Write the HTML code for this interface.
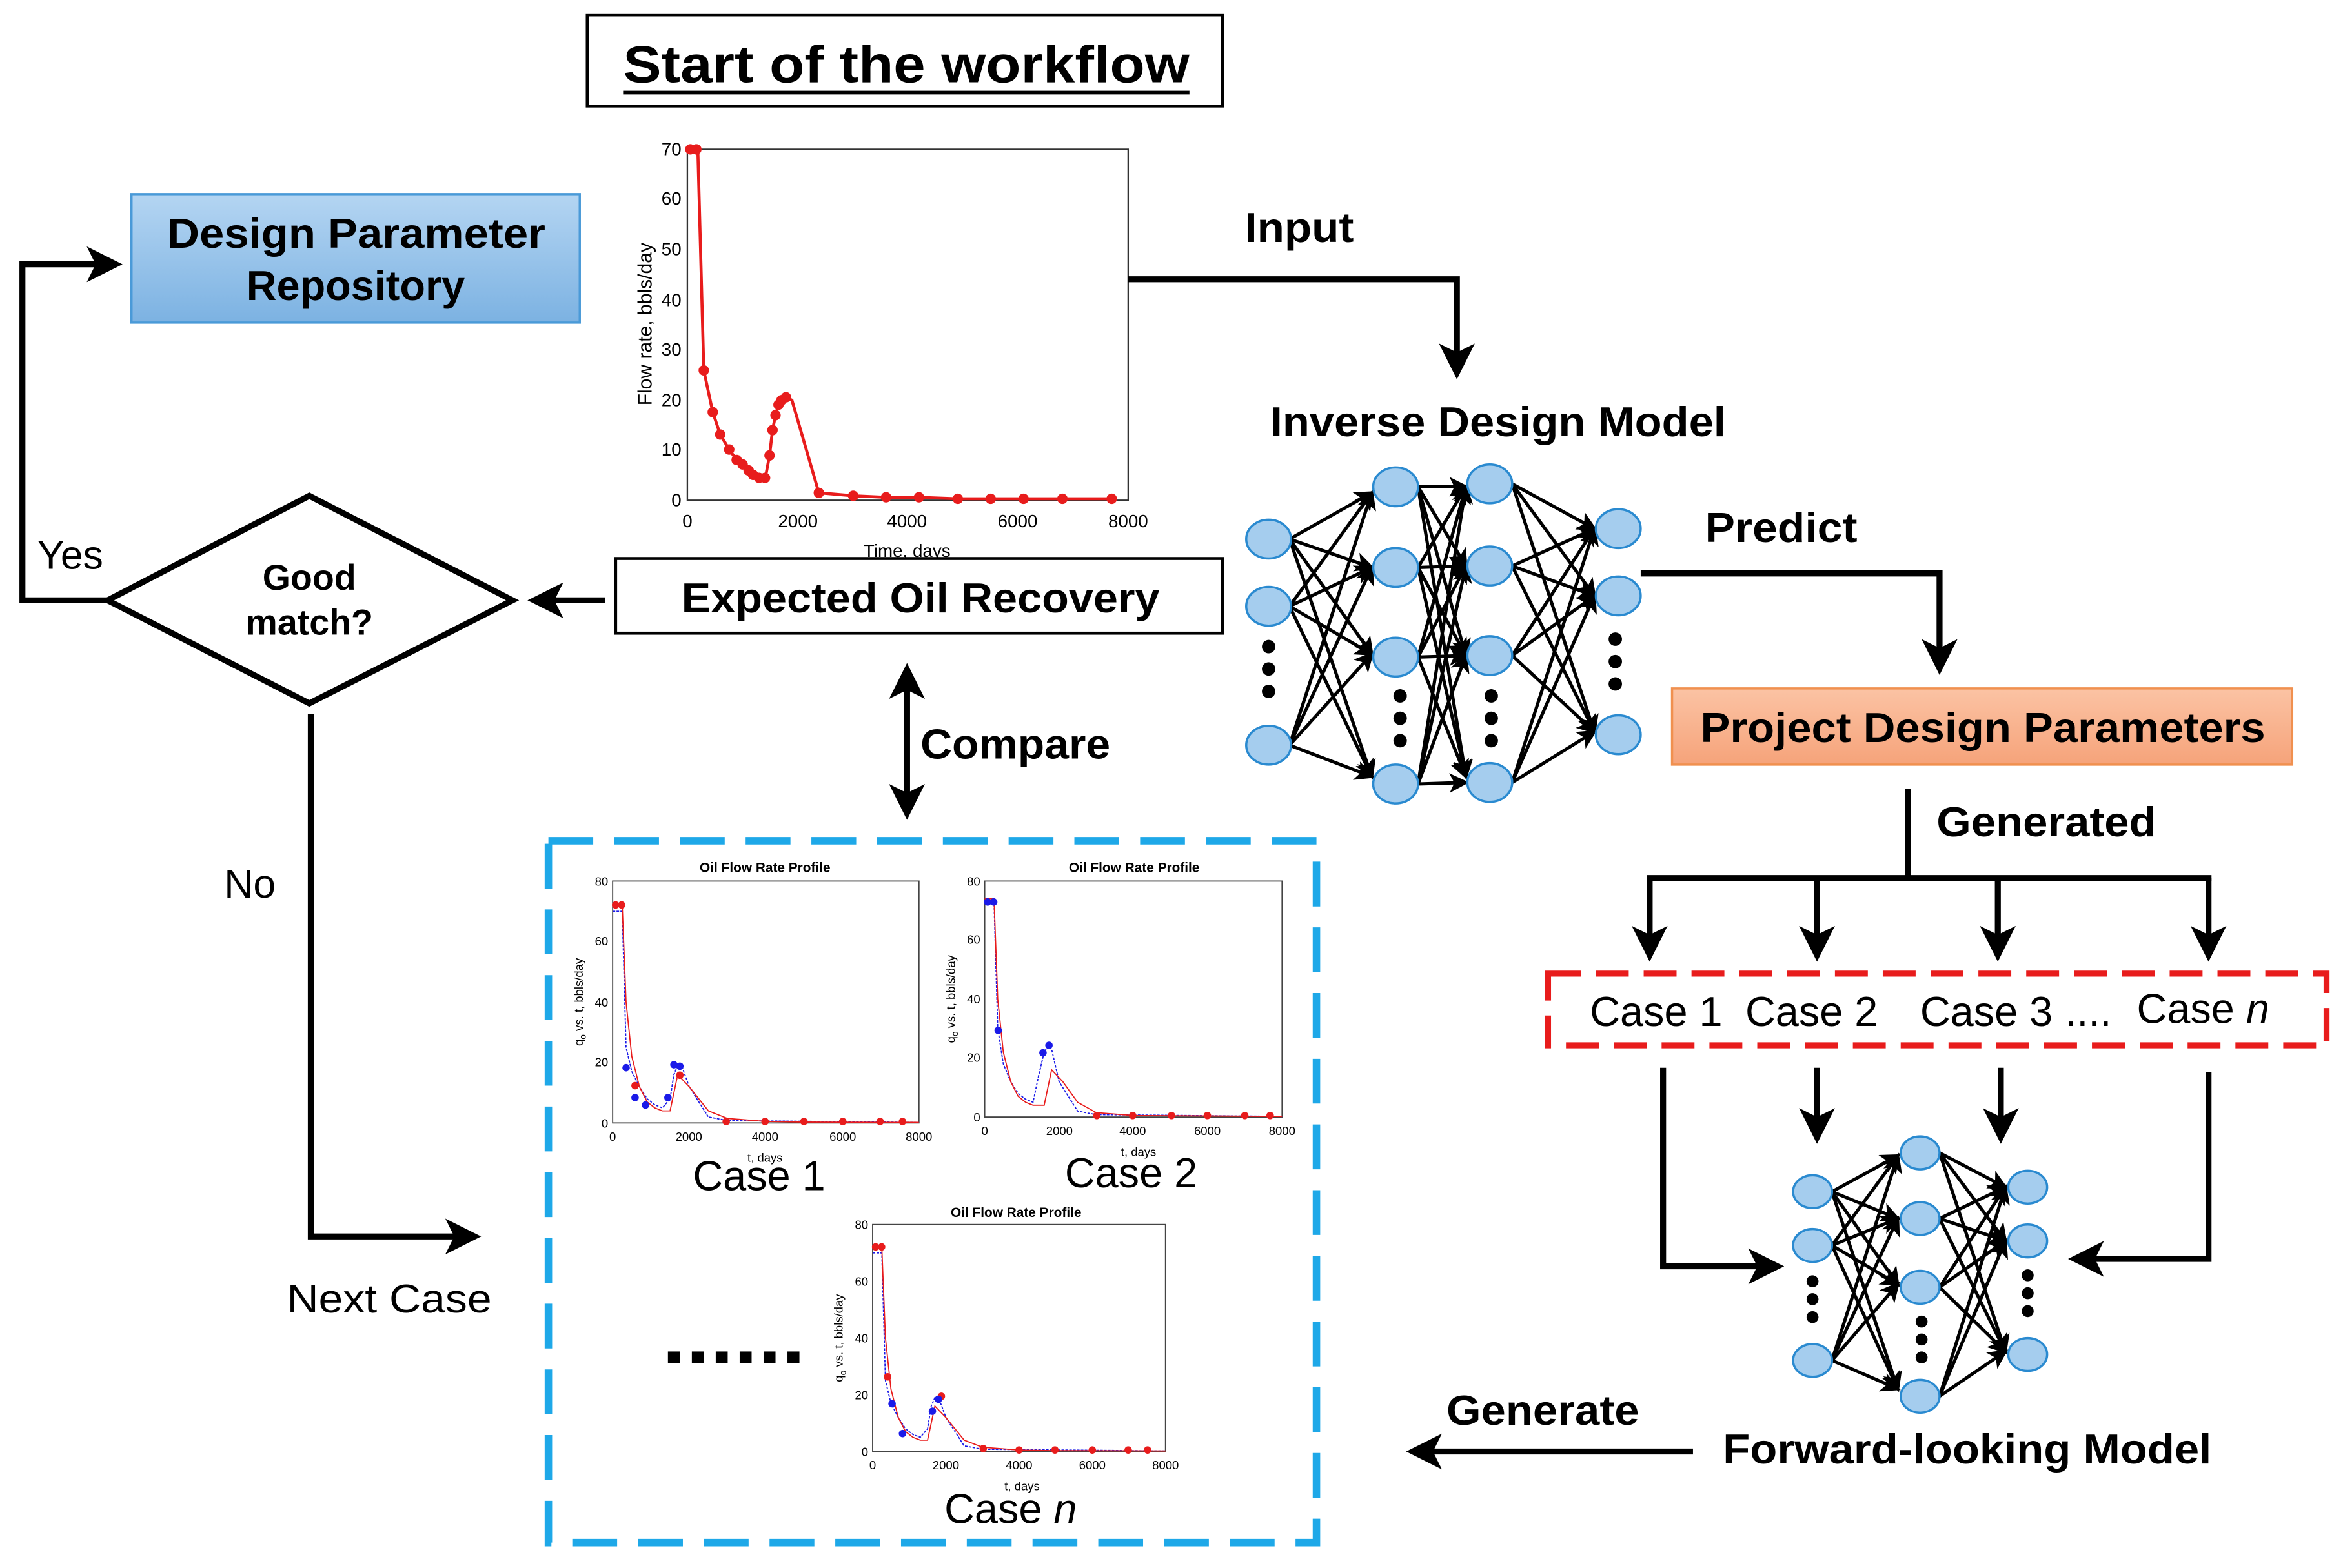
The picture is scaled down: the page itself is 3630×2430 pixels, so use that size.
<!DOCTYPE html>
<html><head><meta charset="utf-8"><style>html,body{margin:0;padding:0;background:#fff}svg{display:block}</style></head>
<body>
<svg xmlns="http://www.w3.org/2000/svg" width="3630" height="2430" viewBox="0 0 1568 1050" preserveAspectRatio="none" font-family="Liberation Sans, Arial, sans-serif">
<defs>
<marker id="ah" markerWidth="6" markerHeight="6" refX="5" refY="3" orient="auto" markerUnits="strokeWidth"><path d="M0,0 L6,3 L0,6 L1.5,3 z" fill="#000"/></marker>
<linearGradient id="bg" x1="0" y1="0" x2="0" y2="1"><stop offset="0" stop-color="#b4d5f2"/><stop offset="1" stop-color="#7cb2e2"/></linearGradient>
<linearGradient id="og" x1="0" y1="0" x2="0" y2="1"><stop offset="0" stop-color="#fbc3a4"/><stop offset="1" stop-color="#f6a37a"/></linearGradient>
<g id="redc"><polyline vector-effect="non-scaling-stroke" fill="none" stroke="#e81c1c" stroke-width="1.8" points="0,72 250,72 350,40 500,22 700,12 900,7 1100,5 1300,4 1500,4 1700,16 2000,12 2500,4 3000,1.5 4000,0.5 5000,0.3 8000,0.2"/></g>
</defs>
<rect width="1568" height="1050" fill="#fff"/>

<rect x="393" y="10" width="425" height="61" fill="#fff" stroke="#000" stroke-width="2"/>
<text x="417" y="55" font-size="35" font-weight="bold" textLength="379" lengthAdjust="spacingAndGlyphs">Start of the workflow</text>
<line x1="417" y1="62" x2="796" y2="62" stroke="#000" stroke-width="2.5"/>

<rect x="460" y="100" width="295" height="235" fill="#fff" stroke="#333" stroke-width="1"/>
<g font-size="12" text-anchor="end">
<text x="456" y="339">0</text><text x="456" y="305">10</text><text x="456" y="272">20</text><text x="456" y="238">30</text><text x="456" y="205">40</text><text x="456" y="171">50</text><text x="456" y="137">60</text><text x="456" y="104">70</text>
</g>
<g font-size="12" text-anchor="middle">
<text x="460" y="353">0</text><text x="534" y="353">2000</text><text x="607" y="353">4000</text><text x="681" y="353">6000</text><text x="755" y="353">8000</text>
<text x="607" y="373">Time, days</text>
</g>
<text transform="translate(436,217) rotate(-90)" font-size="13" text-anchor="middle">Flow rate, bbls/day</text>
<polyline fill="none" stroke="#e81c1c" stroke-width="2" points="460,100 467,100 471,248 477,276 482,291 488,301 493,308 497,311.5 501,315 504,318 508,320 512,321 515,305 517,288 519,278 521,271 523,268 526,266 530,268 548,330 571,332 593,333 615,333 641,334 663,334 685,334 711,334 744,334"/>
<g fill="#e81c1c">
<circle cx="462" cy="100" r="3.5"/><circle cx="466" cy="100" r="3.5"/><circle cx="471" cy="248" r="3.5"/><circle cx="477" cy="276" r="3.5"/><circle cx="482" cy="291" r="3.5"/><circle cx="488" cy="301" r="3.5"/><circle cx="493" cy="308" r="3.5"/><circle cx="497" cy="311" r="3.5"/><circle cx="501" cy="315" r="3.5"/><circle cx="504" cy="318" r="3.5"/><circle cx="508" cy="320" r="3.5"/><circle cx="512" cy="320" r="3.5"/><circle cx="515" cy="305" r="3.5"/><circle cx="517" cy="288" r="3.5"/><circle cx="519" cy="278" r="3.5"/><circle cx="521" cy="271" r="3.5"/><circle cx="523" cy="268" r="3.5"/><circle cx="526" cy="266" r="3.5"/><circle cx="548" cy="330" r="3.5"/><circle cx="571" cy="332" r="3.5"/><circle cx="593" cy="333" r="3.5"/><circle cx="615" cy="333" r="3.5"/><circle cx="641" cy="334" r="3.5"/><circle cx="663" cy="334" r="3.5"/><circle cx="685" cy="334" r="3.5"/><circle cx="711" cy="334" r="3.5"/><circle cx="744" cy="334" r="3.5"/>
</g>

<text x="833" y="162" font-size="28" font-weight="bold" textLength="73" lengthAdjust="spacingAndGlyphs">Input</text>
<polyline points="755,187 975,187 975,250" fill="none" stroke="#000" stroke-width="4" marker-end="url(#ah)"/>
<text x="850" y="292" font-size="28" font-weight="bold" textLength="305" lengthAdjust="spacingAndGlyphs">Inverse Design Model</text>

<g stroke="#000" stroke-width="2.2" marker-end="url(#ah)">
<line x1="863" y1="361" x2="918" y2="330"/><line x1="863" y1="361" x2="918" y2="380"/><line x1="863" y1="361" x2="918" y2="438"/><line x1="863" y1="361" x2="918" y2="520"/>
<line x1="863" y1="406" x2="918" y2="330"/><line x1="863" y1="406" x2="918" y2="380"/><line x1="863" y1="406" x2="918" y2="438"/><line x1="863" y1="406" x2="918" y2="520"/>
<line x1="863" y1="499" x2="918" y2="330"/><line x1="863" y1="499" x2="918" y2="380"/><line x1="863" y1="499" x2="918" y2="438"/><line x1="863" y1="499" x2="918" y2="520"/>
<line x1="949" y1="326" x2="981" y2="326"/><line x1="949" y1="326" x2="981" y2="379"/><line x1="949" y1="326" x2="981" y2="439"/><line x1="949" y1="326" x2="981" y2="520"/>
<line x1="949" y1="380" x2="981" y2="326"/><line x1="949" y1="380" x2="981" y2="379"/><line x1="949" y1="380" x2="981" y2="439"/><line x1="949" y1="380" x2="981" y2="520"/>
<line x1="949" y1="440" x2="981" y2="326"/><line x1="949" y1="440" x2="981" y2="379"/><line x1="949" y1="440" x2="981" y2="439"/><line x1="949" y1="440" x2="981" y2="520"/>
<line x1="949" y1="525" x2="981" y2="326"/><line x1="949" y1="525" x2="981" y2="379"/><line x1="949" y1="525" x2="981" y2="439"/><line x1="949" y1="525" x2="981" y2="524"/>
<line x1="1012" y1="324" x2="1067" y2="354"/><line x1="1012" y1="324" x2="1067" y2="399"/><line x1="1012" y1="324" x2="1067" y2="490"/>
<line x1="1012" y1="379" x2="1067" y2="354"/><line x1="1012" y1="379" x2="1067" y2="399"/><line x1="1012" y1="379" x2="1067" y2="490"/>
<line x1="1012" y1="439" x2="1067" y2="354"/><line x1="1012" y1="439" x2="1067" y2="399"/><line x1="1012" y1="439" x2="1067" y2="490"/>
<line x1="1012" y1="524" x2="1067" y2="354"/><line x1="1012" y1="524" x2="1067" y2="399"/><line x1="1012" y1="524" x2="1067" y2="490"/>
</g>
<g fill="#a5cdee" stroke="#2a8ad0" stroke-width="1.5">
<ellipse cx="849" cy="361" rx="15" ry="13"/><ellipse cx="849" cy="406" rx="15" ry="13"/><ellipse cx="849" cy="499" rx="15" ry="13"/>
<ellipse cx="934" cy="326" rx="15" ry="13"/><ellipse cx="934" cy="380" rx="15" ry="13"/><ellipse cx="934" cy="440" rx="15" ry="13"/><ellipse cx="934" cy="525" rx="15" ry="13"/>
<ellipse cx="997" cy="324" rx="15" ry="13"/><ellipse cx="997" cy="379" rx="15" ry="13"/><ellipse cx="997" cy="439" rx="15" ry="13"/><ellipse cx="997" cy="524" rx="15" ry="13"/>
<ellipse cx="1083" cy="354" rx="15" ry="13"/><ellipse cx="1083" cy="399" rx="15" ry="13"/><ellipse cx="1083" cy="492" rx="15" ry="13"/>
</g>
<g fill="#000">
<circle cx="849" cy="433" r="4.5"/><circle cx="849" cy="448" r="4.5"/><circle cx="849" cy="463" r="4.5"/>
<circle cx="937" cy="466" r="4.5"/><circle cx="937" cy="481" r="4.5"/><circle cx="937" cy="496" r="4.5"/>
<circle cx="998" cy="466" r="4.5"/><circle cx="998" cy="481" r="4.5"/><circle cx="998" cy="496" r="4.5"/>
<circle cx="1081" cy="428" r="4.5"/><circle cx="1081" cy="443" r="4.5"/><circle cx="1081" cy="458" r="4.5"/>
</g>

<text x="1141" y="363" font-size="28" font-weight="bold" textLength="102" lengthAdjust="spacingAndGlyphs">Predict</text>
<polyline points="1098,384 1298,384 1298,448" fill="none" stroke="#000" stroke-width="4" marker-end="url(#ah)"/>
<rect x="1119" y="461" width="415" height="51" fill="url(#og)" stroke="#f0904f" stroke-width="1.5"/>
<text x="1138" y="497" font-size="28" font-weight="bold" textLength="378" lengthAdjust="spacingAndGlyphs">Project Design Parameters</text>

<text x="1296" y="560" font-size="28" font-weight="bold" textLength="147" lengthAdjust="spacingAndGlyphs">Generated</text>
<g stroke="#000" stroke-width="4" fill="none">
<line x1="1277" y1="528" x2="1277" y2="588"/>
<line x1="1102" y1="588" x2="1480" y2="588"/>
<line x1="1104" y1="588" x2="1104" y2="640" marker-end="url(#ah)"/>
<line x1="1216" y1="588" x2="1216" y2="640" marker-end="url(#ah)"/>
<line x1="1337" y1="588" x2="1337" y2="640" marker-end="url(#ah)"/>
<line x1="1478" y1="588" x2="1478" y2="640" marker-end="url(#ah)"/>
</g>
<rect x="1036" y="652" width="521" height="48" fill="none" stroke="#e81c1c" stroke-width="4" stroke-dasharray="22,10"/>
<g font-size="28">
<text x="1064" y="687">Case 1</text><text x="1168" y="687">Case 2</text><text x="1285" y="687">Case 3</text><text x="1382" y="687">....</text><text x="1430" y="685">Case <tspan font-style="italic">n</tspan></text>
</g>
<g stroke="#000" stroke-width="4" fill="none">
<polyline points="1113,715 1113,848 1190,848" marker-end="url(#ah)"/>
<line x1="1216" y1="715" x2="1216" y2="762" marker-end="url(#ah)"/>
<line x1="1339" y1="715" x2="1339" y2="762" marker-end="url(#ah)"/>
<polyline points="1478,718 1478,843 1388,843" marker-end="url(#ah)"/>
</g>

<g stroke="#000" stroke-width="2.2" marker-end="url(#ah)">
<line x1="1226" y1="798" x2="1270" y2="774"/><line x1="1226" y1="798" x2="1270" y2="816"/><line x1="1226" y1="798" x2="1270" y2="860"/><line x1="1226" y1="798" x2="1270" y2="930"/>
<line x1="1226" y1="834" x2="1270" y2="774"/><line x1="1226" y1="834" x2="1270" y2="816"/><line x1="1226" y1="834" x2="1270" y2="860"/><line x1="1226" y1="834" x2="1270" y2="930"/>
<line x1="1226" y1="911" x2="1270" y2="774"/><line x1="1226" y1="911" x2="1270" y2="816"/><line x1="1226" y1="911" x2="1270" y2="860"/><line x1="1226" y1="911" x2="1270" y2="930"/>
<line x1="1298" y1="772" x2="1342" y2="795"/><line x1="1298" y1="772" x2="1342" y2="831"/><line x1="1298" y1="772" x2="1342" y2="905"/>
<line x1="1298" y1="816" x2="1342" y2="795"/><line x1="1298" y1="816" x2="1342" y2="831"/><line x1="1298" y1="816" x2="1342" y2="905"/>
<line x1="1298" y1="862" x2="1342" y2="795"/><line x1="1298" y1="862" x2="1342" y2="831"/><line x1="1298" y1="862" x2="1342" y2="905"/>
<line x1="1298" y1="935" x2="1342" y2="795"/><line x1="1298" y1="935" x2="1342" y2="831"/><line x1="1298" y1="935" x2="1342" y2="905"/>
</g>
<g fill="#a5cdee" stroke="#2a8ad0" stroke-width="1.5">
<ellipse cx="1213" cy="798" rx="13" ry="11"/><ellipse cx="1213" cy="834" rx="13" ry="11"/><ellipse cx="1213" cy="911" rx="13" ry="11"/>
<ellipse cx="1285" cy="772" rx="13" ry="11"/><ellipse cx="1285" cy="816" rx="13" ry="11"/><ellipse cx="1285" cy="862" rx="13" ry="11"/><ellipse cx="1285" cy="935" rx="13" ry="11"/>
<ellipse cx="1357" cy="795" rx="13" ry="11"/><ellipse cx="1357" cy="831" rx="13" ry="11"/><ellipse cx="1357" cy="907" rx="13" ry="11"/>
</g>
<g fill="#000">
<circle cx="1213" cy="858" r="4"/><circle cx="1213" cy="870" r="4"/><circle cx="1213" cy="882" r="4"/>
<circle cx="1286" cy="885" r="4"/><circle cx="1286" cy="897" r="4"/><circle cx="1286" cy="909" r="4"/>
<circle cx="1357" cy="854" r="4"/><circle cx="1357" cy="866" r="4"/><circle cx="1357" cy="878" r="4"/>
</g>
<text x="1153" y="980" font-size="28" font-weight="bold" textLength="327" lengthAdjust="spacingAndGlyphs">Forward-looking Model</text>
<text x="968" y="954" font-size="28" font-weight="bold" textLength="129" lengthAdjust="spacingAndGlyphs">Generate</text>
<line x1="1133" y1="972" x2="945" y2="972" stroke="#000" stroke-width="4" marker-end="url(#ah)"/>

<rect x="88" y="130" width="300" height="86" fill="url(#bg)" stroke="#4a9ad8" stroke-width="1.5"/>
<text x="112" y="166" font-size="28" font-weight="bold" textLength="253" lengthAdjust="spacingAndGlyphs">Design Parameter</text>
<text x="238" y="201" font-size="28" font-weight="bold" text-anchor="middle">Repository</text>
<polygon points="72,402 207,332 343,402 207,471" fill="#fff" stroke="#000" stroke-width="4"/>
<text x="207" y="395" font-size="24" font-weight="bold" text-anchor="middle">Good</text>
<text x="207" y="425" font-size="24" font-weight="bold" text-anchor="middle">match?</text>
<text x="25" y="381" font-size="27">Yes</text>
<polyline points="72,402 15,402 15,177 78,177" fill="none" stroke="#000" stroke-width="4" marker-end="url(#ah)"/>
<rect x="412" y="374" width="406" height="50" fill="#fff" stroke="#000" stroke-width="2"/>
<text x="456" y="410" font-size="28" font-weight="bold" textLength="320" lengthAdjust="spacingAndGlyphs">Expected Oil Recovery</text>
<line x1="405" y1="402" x2="357" y2="402" stroke="#000" stroke-width="4" marker-end="url(#ah)"/>
<line x1="607" y1="460" x2="607" y2="545" stroke="#000" stroke-width="4" marker-end="url(#ah)"/>
<line x1="607" y1="545" x2="607" y2="448" stroke="#000" stroke-width="4" marker-end="url(#ah)"/>
<text x="616" y="508" font-size="28" font-weight="bold" textLength="127" lengthAdjust="spacingAndGlyphs">Compare</text>
<text x="150" y="601" font-size="27">No</text>
<polyline points="208,478 208,828 318,828" fill="none" stroke="#000" stroke-width="4" marker-end="url(#ah)"/>
<text x="192" y="879" font-size="27" textLength="137" lengthAdjust="spacingAndGlyphs">Next Case</text>

<rect x="367" y="563" width="514" height="470" fill="none" stroke="#1ea8e8" stroke-width="5" stroke-dasharray="30,14"/>

<text x="512" y="584" font-size="9" font-weight="bold" text-anchor="middle">Oil Flow Rate Profile</text>
<rect x="410" y="590" width="205" height="162" fill="#fff" stroke="#444" stroke-width="0.8"/>
<g font-size="8" text-anchor="end"><text x="407" y="755">0</text><text x="407" y="714">20</text><text x="407" y="674">40</text><text x="407" y="633">60</text><text x="407" y="593">80</text></g>
<g font-size="8" text-anchor="middle"><text x="410" y="764">0</text><text x="461" y="764">2000</text><text x="512" y="764">4000</text><text x="564" y="764">6000</text><text x="615" y="764">8000</text><text x="512" y="778">t, days</text></g>
<text transform="translate(390,671) rotate(-90)" font-size="8" text-anchor="middle">q<tspan font-size="6" dy="2">o</tspan><tspan dy="-2"> vs. t, bbls/day</tspan></text>
<g transform="translate(410,752) scale(0.025625,-2.025)">
<polyline vector-effect="non-scaling-stroke" fill="none" stroke="#1a1ae8" stroke-width="1.8" stroke-dasharray="4,2" points="0,70 250,70 350,25 500,17 700,12 900,8 1100,6 1300,5 1500,8 1600,16 1700,19 1800,19 2000,12 2500,2 3000,0.8 8000,0.2"/>
<use href="#redc"/>
</g>
<g fill="#e81c1c"><circle cx="412" cy="606" r="2.5"/><circle cx="416" cy="606" r="2.5"/><circle cx="425" cy="727" r="2.5"/><circle cx="455" cy="720" r="2.5"/><circle cx="486" cy="751" r="2.5"/><circle cx="512" cy="751" r="2.5"/><circle cx="538" cy="751" r="2.5"/><circle cx="564" cy="751" r="2.5"/><circle cx="589" cy="751" r="2.5"/><circle cx="604" cy="751" r="2.5"/></g>
<g fill="#1a1ae8"><circle cx="419" cy="715" r="2.5"/><circle cx="425" cy="735" r="2.5"/><circle cx="432" cy="740" r="2.5"/><circle cx="447" cy="735" r="2.5"/><circle cx="451" cy="713" r="2.5"/><circle cx="455" cy="714" r="2.5"/></g>
<text x="508" y="797" font-size="28" text-anchor="middle">Case 1</text>

<text x="759" y="584" font-size="9" font-weight="bold" text-anchor="middle">Oil Flow Rate Profile</text>
<rect x="659" y="590" width="199" height="158" fill="#fff" stroke="#444" stroke-width="0.8"/>
<g font-size="8" text-anchor="end"><text x="656" y="751">0</text><text x="656" y="711">20</text><text x="656" y="672">40</text><text x="656" y="632">60</text><text x="656" y="593">80</text></g>
<g font-size="8" text-anchor="middle"><text x="659" y="760">0</text><text x="709" y="760">2000</text><text x="758" y="760">4000</text><text x="808" y="760">6000</text><text x="858" y="760">8000</text><text x="762" y="774">t, days</text></g>
<text transform="translate(639,669) rotate(-90)" font-size="8" text-anchor="middle">q<tspan font-size="6" dy="2">o</tspan><tspan dy="-2"> vs. t, bbls/day</tspan></text>
<g transform="translate(659,748) scale(0.024875,-1.975)">
<polyline vector-effect="non-scaling-stroke" fill="none" stroke="#1a1ae8" stroke-width="1.8" stroke-dasharray="4,2" points="0,73 250,73 350,30 500,18 700,12 900,8 1100,6 1300,5 1450,14 1600,22 1700,24 1800,23 2000,12 2500,2 3000,0.8 8000,0.2"/>
<polyline vector-effect="non-scaling-stroke" fill="none" stroke="#e81c1c" stroke-width="1.8" points="0,74 250,74 350,40 500,22 700,12 900,7 1100,5 1300,4 1600,4 1800,16 2100,12 2500,5 3000,1.5 4000,0.5 8000,0.2"/>
</g>
<g fill="#1a1ae8"><circle cx="661" cy="604" r="2.5"/><circle cx="665" cy="604" r="2.5"/><circle cx="668" cy="690" r="2.5"/><circle cx="698" cy="705" r="2.5"/><circle cx="702" cy="700" r="2.5"/></g>
<g fill="#e81c1c"><circle cx="734" cy="747" r="2.5"/><circle cx="758" cy="747" r="2.5"/><circle cx="784" cy="747" r="2.5"/><circle cx="808" cy="747" r="2.5"/><circle cx="833" cy="747" r="2.5"/><circle cx="850" cy="747" r="2.5"/></g>
<text x="757" y="795" font-size="28" text-anchor="middle">Case 2</text>

<text x="680" y="815" font-size="9" font-weight="bold" text-anchor="middle">Oil Flow Rate Profile</text>
<rect x="584" y="820" width="196" height="152" fill="#fff" stroke="#444" stroke-width="0.8"/>
<g font-size="8" text-anchor="end"><text x="581" y="975">0</text><text x="581" y="937">20</text><text x="581" y="899">40</text><text x="581" y="861">60</text><text x="581" y="823">80</text></g>
<g font-size="8" text-anchor="middle"><text x="584" y="984">0</text><text x="633" y="984">2000</text><text x="682" y="984">4000</text><text x="731" y="984">6000</text><text x="780" y="984">8000</text><text x="684" y="998">t, days</text></g>
<text transform="translate(564,896) rotate(-90)" font-size="8" text-anchor="middle">q<tspan font-size="6" dy="2">o</tspan><tspan dy="-2"> vs. t, bbls/day</tspan></text>
<g transform="translate(584,972) scale(0.0245,-1.9)">
<polyline vector-effect="non-scaling-stroke" fill="none" stroke="#1a1ae8" stroke-width="1.8" stroke-dasharray="4,2" points="0,70 250,70 350,25 500,17 700,12 900,8 1100,6 1300,5 1500,8 1600,16 1700,19 1800,19 2000,12 2500,2 3000,0.8 8000,0.2"/>
<use href="#redc"/>
</g>
<g fill="#e81c1c"><circle cx="586" cy="835" r="2.5"/><circle cx="590" cy="835" r="2.5"/><circle cx="594" cy="922" r="2.5"/><circle cx="630" cy="935" r="2.5"/><circle cx="658" cy="970" r="2.5"/><circle cx="682" cy="971" r="2.5"/><circle cx="706" cy="971" r="2.5"/><circle cx="731" cy="971" r="2.5"/><circle cx="755" cy="971" r="2.5"/><circle cx="768" cy="971" r="2.5"/></g>
<g fill="#1a1ae8"><circle cx="597" cy="940" r="2.5"/><circle cx="604" cy="960" r="2.5"/><circle cx="624" cy="945" r="2.5"/><circle cx="628" cy="937" r="2.5"/></g>
<text x="632" y="1020" font-size="28">Case <tspan font-style="italic">n</tspan></text>

<g fill="#000"><rect x="447" y="905" width="8" height="8"/><rect x="463" y="905" width="8" height="8"/><rect x="479" y="905" width="8" height="8"/><rect x="495" y="905" width="8" height="8"/><rect x="511" y="905" width="8" height="8"/><rect x="527" y="905" width="8" height="8"/></g>
</svg>
</body></html>
